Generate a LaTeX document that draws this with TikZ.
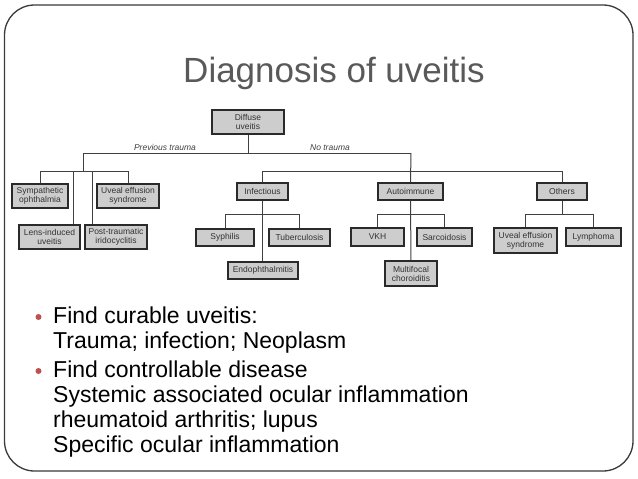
\documentclass[tikz,border=0pt]{standalone}
\usepackage{fontspec}
\setmainfont{Liberation Sans}
\definecolor{boxfill}{HTML}{CDCDCD}
\definecolor{boxline}{HTML}{2A2A2A}
\definecolor{titlegray}{HTML}{595959}
\definecolor{bulletred}{HTML}{C0504D}
\definecolor{framegray}{HTML}{3A3A3A}
\begin{document}
\begin{tikzpicture}[x=1pt,y=-1pt,
  box/.style={draw=boxline,fill=boxfill,line width=1.2pt,inner sep=0pt,align=center,
    font=\fontsize{8.5}{9}\selectfont,text=black!80},
  link/.style={draw=black!75,line width=1pt},
  lbl/.style={font=\fontsize{8.5}{9}\selectfont\itshape,text=black!75},
  body/.style={anchor=base west,inner sep=0pt,font=\fontsize{23}{25}\selectfont,text=black},
  dot/.style={circle,fill=bulletred,inner sep=0pt,minimum size=6pt}]
\useasboundingbox (0,0) rectangle (638,479);
\fill[white] (0,0) rectangle (638,479);
\draw[framegray,line width=1.3pt,rounded corners=30pt] (4.5,5) rectangle (633,471);

\node[anchor=base,inner sep=0pt,font=\fontsize{35}{37}\selectfont,text=titlegray] (title) at (334,82) {Diagnosis of uveitis};

% boxes
\node[box,minimum width=72pt,minimum height=24pt] (diffuse) at (248,122) {Diffuse\\uveitis};
\node[box,minimum width=56pt,minimum height=24pt] (symp) at (40,196) {Sympathetic\\ophthalmia};
\node[box,minimum width=62pt,minimum height=24pt] (uveal1) at (128,196) {Uveal effusion\\syndrome};
\node[box,minimum width=61pt,minimum height=24pt] (lens) at (49.5,237) {Lens-induced\\uveitis};
\node[box,minimum width=62pt,minimum height=24pt] (post) at (116,237) {Post-traumatic\\iridocyclitis};
\node[box,minimum width=51pt,minimum height=17pt] (infect) at (262.5,191.5) {Infectious};
\node[box,minimum width=65pt,minimum height=17pt] (auto) at (410.5,191.5) {Autoimmune};
\node[box,minimum width=50pt,minimum height=17pt] (others) at (562,191.5) {Others};
\node[box,minimum width=58pt,minimum height=17pt] (syph) at (225,237.5) {Syphilis};
\node[box,minimum width=61pt,minimum height=17pt] (tb) at (299.5,237.5) {Tuberculosis};
\node[box,minimum width=70pt,minimum height=17pt] (endo) at (263,270.5) {Endophthalmitis};
\node[box,minimum width=53pt,minimum height=18pt] (vkh) at (377.5,237) {VKH};
\node[box,minimum width=55pt,minimum height=18pt] (sarc) at (444.5,237) {Sarcoidosis};
\node[box,minimum width=52pt,minimum height=25pt] (multi) at (411,273.5) {Multifocal\\choroiditis};
\node[box,minimum width=63pt,minimum height=25pt] (uveal2) at (525.5,240.5) {Uveal effusion\\syndrome};
\node[box,minimum width=55pt,minimum height=18pt] (lymph) at (593.5,237) {Lymphoma};

% junction coordinates
\coordinate (j0) at (248,153);
\coordinate (jl) at (83,153);
\coordinate (jr) at (411,153);
\coordinate (jl2) at (83,171);
\coordinate (jr2) at (411,171);
\coordinate (jlens) at (73,171);
\coordinate (jpost) at (92,171);
\coordinate (ji) at (262.5,214);
\coordinate (ja) at (411,214);
\coordinate (jo) at (562,214);

\node[lbl,anchor=base] (prev) at (165,150) {Previous trauma};
\node[lbl,anchor=base] (notr) at (330,150) {No trauma};

% connectors
\draw[link] (diffuse.south) -- (j0);
\draw[link] (jl) -- (jr);
\draw[link] (jl) -- (jl2);
\draw[link] (jl2 -| symp.north) -- (jl2 -| uveal1.north);
\draw[link] (jl2 -| symp.north) -- (symp.north);
\draw[link] (jl2 -| uveal1.north) -- (uveal1.north);
\draw[link] (jlens) -- (jlens |- lens.north);
\draw[link] (jpost) -- (jpost |- post.north);
\draw[link] (jr) -- (auto.north);
\draw[link] (jr2 -| infect.north) -- (jr2 -| others.north);
\draw[link] (jr2 -| infect.north) -- (infect.north);
\draw[link] (jr2 -| others.north) -- (others.north);
% infectious
\draw[link] (infect.south) -- (endo.north -| infect.south);
\draw[link] (ji -| syph.north) -- (ji -| tb.north);
\draw[link] (ji -| syph.north) -- (syph.north);
\draw[link] (ji -| tb.north) -- (tb.north);
% autoimmune
\draw[link] (auto.south) -- (multi.north);
\draw[link] (ja -| vkh.north) -- (ja -| sarc.north);
\draw[link] (ja -| vkh.north) -- (vkh.north);
\draw[link] (ja -| sarc.north) -- (sarc.north);
% others
\draw[link] (others.south) -- (jo);
\draw[link] (jo -| uveal2.north) -- (jo -| lymph.north);
\draw[link] (jo -| uveal2.north) -- (uveal2.north);
\draw[link] (jo -| lymph.north) -- (lymph.north);

% bullets
\node[dot] (b1) at (38.5,317) {};
\node[dot] (b2) at (38.5,371) {};
\node[body] (t1) at (53,323) {Find curable uveitis:};
\node[body] (t2) at (53,348) {Trauma; infection; Neoplasm};
\node[body] (t3) at (53,377) {Find controllable disease};
\node[body] (t4) at (53,402) {Systemic associated ocular inflammation};
\node[body] (t5) at (53,427) {rheumatoid arthritis; lupus};
\node[body] (t6) at (53,452) {Specific ocular inflammation};
\end{tikzpicture}
\end{document}
